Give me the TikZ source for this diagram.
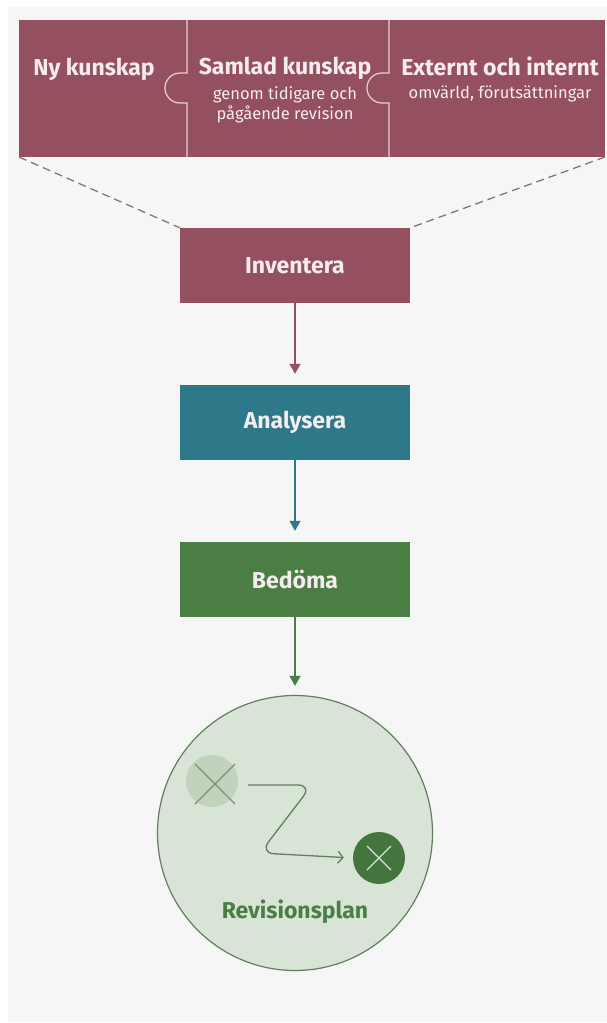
\documentclass[tikz,border=0pt]{standalone}
\usepackage{fontspec}
\setmainfont{Fira Sans}
\usetikzlibrary{arrows.meta,positioning}
\definecolor{bakgrund}{RGB}{246,246,246}
\definecolor{vinrod}{RGB}{149,80,96}
\definecolor{petrol}{RGB}{46,121,137}
\definecolor{skog}{RGB}{74,126,69}
\definecolor{ljus}{RGB}{246,236,239}
\definecolor{skarvfarg}{RGB}{232,208,215}
\definecolor{streckfarg}{RGB}{122,122,122}
\definecolor{ljusgron}{RGB}{216,228,213}
\definecolor{kant}{RGB}{98,126,94}
\definecolor{blek}{RGB}{193,211,189}
\definecolor{morkgron}{RGB}{68,117,62}
\definecolor{kryss}{RGB}{122,146,118}
\tikzset{
  stepbox/.style={minimum width=230pt, minimum height=75pt, inner sep=0pt,
    text=ljus, font=\bfseries\fontsize{23}{27}\selectfont},
  rubrik/.style={anchor=base, inner sep=0pt, text=ljus, font=\bfseries\fontsize{23}{27}\selectfont},
  under/.style={anchor=base, inner sep=0pt, text=ljus, font=\fontsize{16.5}{20}\selectfont},
  skarv/.style={draw=skarvfarg, line width=1.2pt},
  flow/.style={line width=1.3pt, -{Triangle[width=11pt,length=10pt]}},
  streck/.style={draw=streckfarg, line width=1.3pt, dash pattern=on 8pt off 5pt},
}
\begin{document}
\begin{tikzpicture}[x=1pt,y=-1pt]
\useasboundingbox (0,0) rectangle (607,1023);
\fill[bakgrund] (8,7) rectangle (607,1022);
% pusselbitar
\fill[vinrod] (19,20) rectangle (605,157);
\draw[skarv] (187,20) -- (187,73) -- (180,73) arc[start angle=90, end angle=270, radius=15pt] -- (187,103) -- (187,157);
\draw[skarv] (389,20) -- (389,73) -- (382,73) arc[start angle=90, end angle=270, radius=15pt] -- (389,103) -- (389,157);
\node[rubrik] (ny) at (94,75) {Ny kunskap};
\node[rubrik] (samlad) at (285,74) {Samlad kunskap};
\node[under] (samlad1) at (285,99) {genom tidigare och};
\node[under] (samlad2) at (285,119) {pågående revision};
\node[rubrik] (extern) at (500,75) {Externt och internt};
\node[under] (extern1) at (500,98) {omvärld, förutsättningar};
\coordinate (hornv) at (19,157);
\coordinate (hornh) at (605,157);
% steg
\node[stepbox, fill=vinrod] (inventera) at (295,265.5) {Inventera};
\node[stepbox, fill=petrol] (analysera) at (295,422.5) {Analysera};
\node[stepbox, fill=skog] (bedoma) at (295,579.5) {Bedöma};
\node[circle, draw=kant, fill=ljusgron, line width=1.2pt, minimum size=275pt] (plan) at (295,833) {};
\draw[streck] (hornv) -- (inventera.north west);
\draw[streck] (hornh) -- (inventera.north east);
\draw[flow, vinrod, shorten >=11pt] (inventera) -- (analysera);
\draw[flow, petrol, shorten >=11pt] (analysera) -- (bedoma);
\draw[flow, skog, shorten >=9pt] (bedoma) -- (plan);
% revisionsplan
\node[circle, fill=blek, minimum size=52pt, inner sep=0pt] (gammal) at (212,781) {};
\node[circle, fill=morkgron, minimum size=52pt, inner sep=0pt] (ny plan) at (379,858) {};
\draw[kryss, line width=1.3pt] (gammal.center) +(-17,-17) -- +(23,23) +(23,-17) -- +(-17,23);
\draw[ljusgron, line width=1.2pt] (ny plan.center) +(-12,-12) -- +(12,12) +(12,-12) -- +(-12,12);
\draw[kant, line width=1.3pt, rounded corners=14pt, shorten <=10pt, shorten >=9pt, -{Straight Barb[length=5pt,width=12pt]}]
  ([yshift=-4pt]gammal.east) -- (312,785) -- (260,853) -- (ny plan.west);
\node[anchor=base, text=skog, font=\bfseries\fontsize{23}{27}\selectfont] (planrubrik) at (295,918) {Revisionsplan};
\end{tikzpicture}
\end{document}
